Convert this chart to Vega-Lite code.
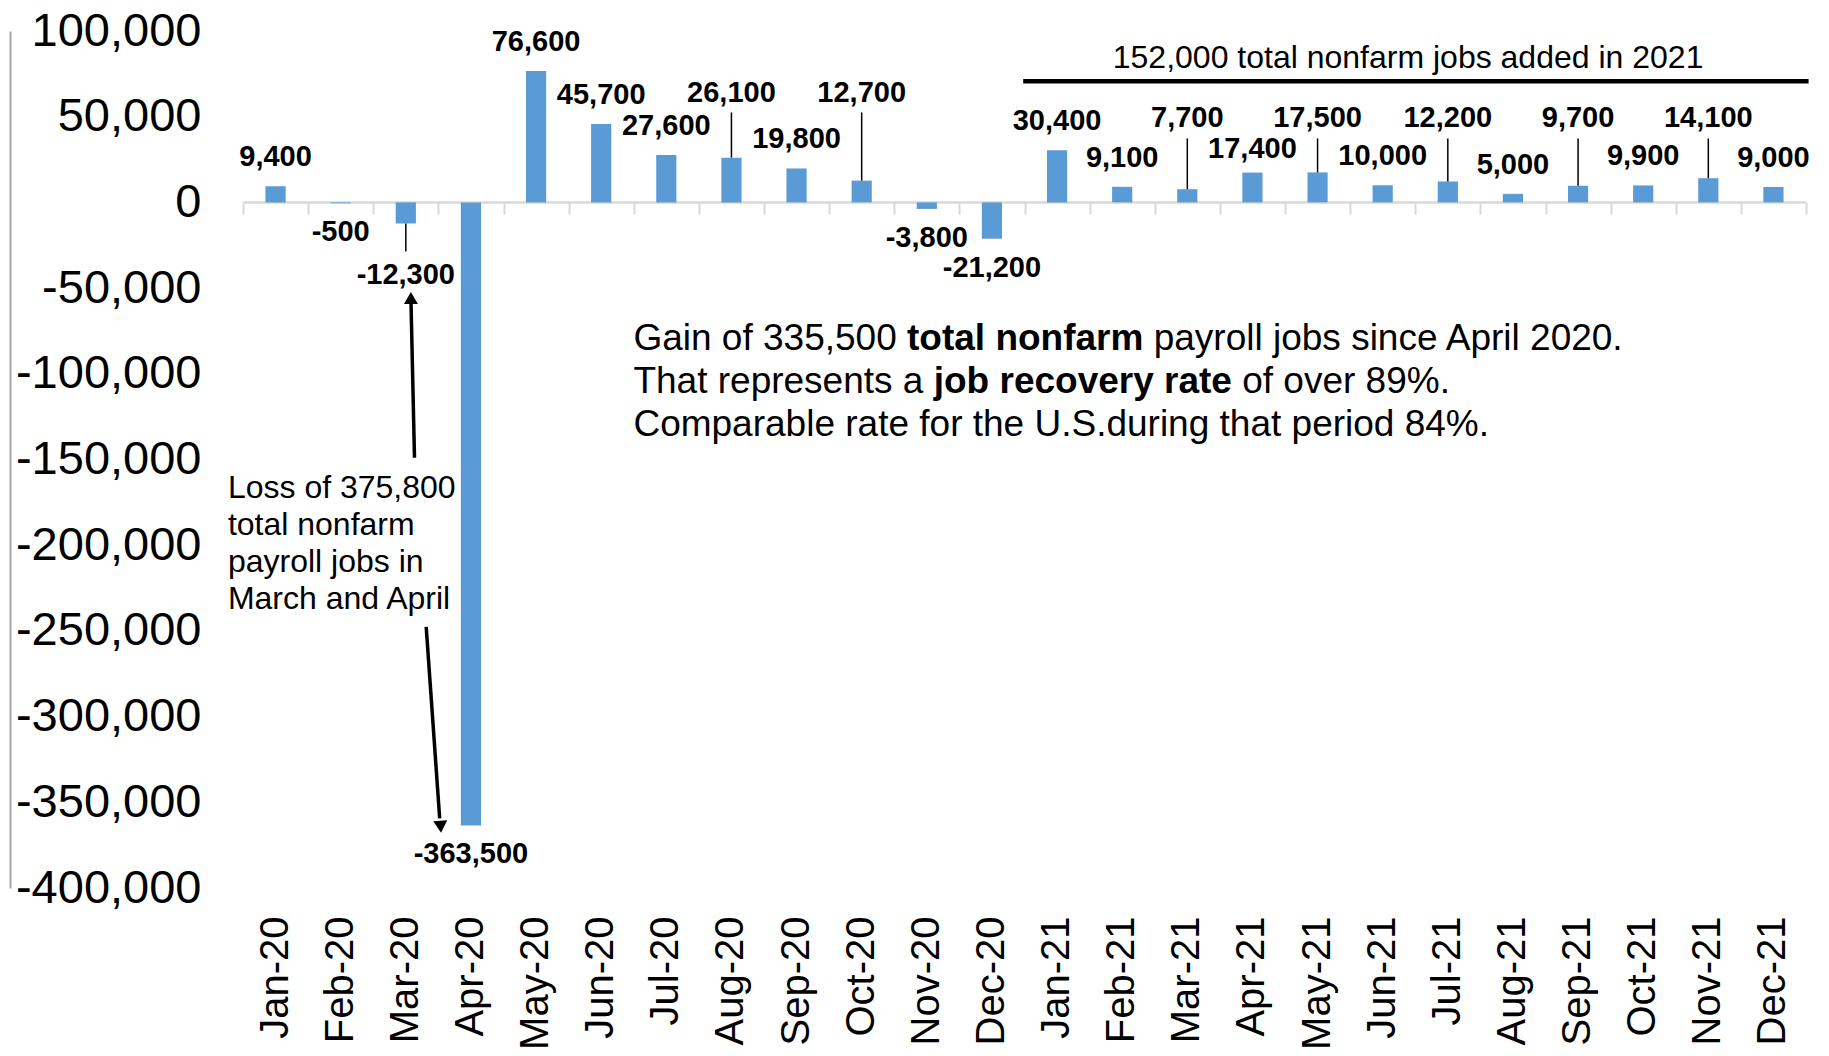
{
  "$schema": "https://vega.github.io/schema/vega-lite/v6.json",
  "width": 1563,
  "height": 857,
  "autosize": {"type": "none"},
  "padding": {"left": 243, "top": 31, "right": 23, "bottom": 168},
  "background": "white",
  "config": {
    "font": "Liberation Sans",
    "view": {"stroke": null},
    "locale": {"number": {"decimal": ".", "thousands": ",", "grouping": [3], "currency": ["$", ""], "minus": "-"}}
  },
  "datasets": {
    "jobs": [
      {"month": "Jan-20", "value": 9400},
      {"month": "Feb-20", "value": -500},
      {"month": "Mar-20", "value": -12300},
      {"month": "Apr-20", "value": -363500},
      {"month": "May-20", "value": 76600},
      {"month": "Jun-20", "value": 45700},
      {"month": "Jul-20", "value": 27600},
      {"month": "Aug-20", "value": 26100},
      {"month": "Sep-20", "value": 19800},
      {"month": "Oct-20", "value": 12700},
      {"month": "Nov-20", "value": -3800},
      {"month": "Dec-20", "value": -21200},
      {"month": "Jan-21", "value": 30400},
      {"month": "Feb-21", "value": 9100},
      {"month": "Mar-21", "value": 7700},
      {"month": "Apr-21", "value": 17400},
      {"month": "May-21", "value": 17500},
      {"month": "Jun-21", "value": 10000},
      {"month": "Jul-21", "value": 12200},
      {"month": "Aug-21", "value": 5000},
      {"month": "Sep-21", "value": 9700},
      {"month": "Oct-21", "value": 9900},
      {"month": "Nov-21", "value": 14100},
      {"month": "Dec-21", "value": 9000}
    ],
    "note": [{"note": "annotation"}]
  },
  "data": {"name": "jobs"},
  "resolve": {"scale": {"x": "independent"}, "axis": {"y": "independent"}},
  "layer": [
    {
      "mark": {"type": "bar", "color": "#5b9bd5"},
      "encoding": {
        "x": {
          "field": "month", "type": "nominal", "sort": null,
          "scale": {"domain": ["Jan-20","Feb-20","Mar-20","Apr-20","May-20","Jun-20","Jul-20","Aug-20","Sep-20","Oct-20","Nov-20","Dec-20","Jan-21","Feb-21","Mar-21","Apr-21","May-21","Jun-21","Jul-21","Aug-21","Sep-21","Oct-21","Nov-21","Dec-21"], "paddingInner": 0.69, "paddingOuter": 0.345},
          "axis": {
            "orient": "bottom", "labelAngle": -90, "labelFontSize": 40, "labelColor": "black",
            "labelFont": "Liberation Sans", "domain": false, "ticks": false, "tickSize": 0,
            "labelPadding": 28, "title": null, "labelOverlap": false, "grid": false, "labelLimit": 0
          }
        },
        "y": {
          "field": "value", "type": "quantitative",
          "scale": {"domain": [-400000, 100000], "nice": false, "zero": false},
          "axis": {
            "orient": "left", "offset": 233,
            "values": [100000, 50000, 0, -50000, -100000, -150000, -200000, -250000, -300000, -350000, -400000],
            "labelExpr": "replace(format(datum.value, ','), '\u2212', '-')",
            "labelFontSize": 47, "labelColor": "black", "labelFont": "Liberation Sans", "labelLimit": 0,
            "labelPadding": -191, "ticks": false, "tickSize": 0,
            "domain": true, "domainColor": "#a6a6a6", "domainWidth": 2,
            "grid": false, "title": null, "labelOverlap": false
          }
        }
      }
    },
    {
      "data": {"name": "note"},
      "mark": {"type": "rule", "color": "black", "strokeWidth": 4.5},
      "encoding": {
        "x": {
          "datum": 11.98, "type": "quantitative",
          "scale": {"domain": [0, 24], "nice": false, "zero": false},
          "axis": {
            "orient": "bottom", "offset": -686,
            "values": [0, 1, 2, 3, 4, 5, 6, 7, 8, 9, 10, 11, 12, 13, 14, 15, 16, 17, 18, 19, 20, 21, 22, 23, 24],
            "labels": false, "domain": true, "domainColor": "#d9d9d9", "domainWidth": 2.5,
            "ticks": true, "tickColor": "#d9d9d9", "tickWidth": 2, "tickSize": 12, "grid": false, "title": null
          }
        },
        "x2": {"datum": 24.04},
        "y": {"datum": 70740, "type": "quantitative", "axis": null}
      }
    },
    {
      "transform": [{"filter": "datum.value > 0 && indexof(['Aug-20','Oct-20','Mar-21','May-21','Jul-21','Sep-21','Nov-21','Apr-21'], datum.month) < 0"}],
      "mark": {"type": "text", "fontSize": 29, "fontWeight": "bold", "baseline": "middle", "align": "center", "dy": -29, "color": "black"},
      "encoding": {
        "x": {"field": "month", "type": "nominal", "sort": null, "axis": null,
              "scale": {"domain": ["Jan-20","Feb-20","Mar-20","Apr-20","May-20","Jun-20","Jul-20","Aug-20","Sep-20","Oct-20","Nov-20","Dec-20","Jan-21","Feb-21","Mar-21","Apr-21","May-21","Jun-21","Jul-21","Aug-21","Sep-21","Oct-21","Nov-21","Dec-21"], "paddingInner": 0.69, "paddingOuter": 0.345}},
        "y": {"field": "value", "type": "quantitative", "axis": null},
        "text": {"field": "value", "type": "quantitative", "format": ","}
      }
    },
    {
      "transform": [{"filter": {"field": "month", "equal": "Apr-21"}}],
      "mark": {"type": "text", "fontSize": 29, "fontWeight": "bold", "baseline": "middle", "align": "center", "dy": -24, "color": "black"},
      "encoding": {
        "x": {"field": "month", "type": "nominal", "sort": null, "axis": null,
              "scale": {"domain": ["Jan-20","Feb-20","Mar-20","Apr-20","May-20","Jun-20","Jul-20","Aug-20","Sep-20","Oct-20","Nov-20","Dec-20","Jan-21","Feb-21","Mar-21","Apr-21","May-21","Jun-21","Jul-21","Aug-21","Sep-21","Oct-21","Nov-21","Dec-21"], "paddingInner": 0.69, "paddingOuter": 0.345}},
        "y": {"field": "value", "type": "quantitative", "axis": null},
        "text": {"field": "value", "type": "quantitative", "format": ","}
      }
    },
    {
      "transform": [{"filter": "datum.value < 0 && datum.month != 'Mar-20'"}],
      "mark": {"type": "text", "fontSize": 29, "fontWeight": "bold", "baseline": "middle", "align": "center", "dy": 29, "color": "black"},
      "encoding": {
        "x": {"field": "month", "type": "nominal", "sort": null, "axis": null,
              "scale": {"domain": ["Jan-20","Feb-20","Mar-20","Apr-20","May-20","Jun-20","Jul-20","Aug-20","Sep-20","Oct-20","Nov-20","Dec-20","Jan-21","Feb-21","Mar-21","Apr-21","May-21","Jun-21","Jul-21","Aug-21","Sep-21","Oct-21","Nov-21","Dec-21"], "paddingInner": 0.69, "paddingOuter": 0.345}},
        "y": {"field": "value", "type": "quantitative", "axis": null},
        "text": {"field": "value", "type": "quantitative", "format": ","}
      }
    },
    {
      "transform": [{"filter": {"field": "month", "oneOf": ["Aug-20", "Oct-20"]}}],
      "mark": {"type": "text", "fontSize": 29, "fontWeight": "bold", "baseline": "middle", "align": "center", "color": "black"},
      "encoding": {
        "x": {"field": "month", "type": "nominal", "sort": null, "axis": null,
              "scale": {"domain": ["Jan-20","Feb-20","Mar-20","Apr-20","May-20","Jun-20","Jul-20","Aug-20","Sep-20","Oct-20","Nov-20","Dec-20","Jan-21","Feb-21","Mar-21","Apr-21","May-21","Jun-21","Jul-21","Aug-21","Sep-21","Oct-21","Nov-21","Dec-21"], "paddingInner": 0.69, "paddingOuter": 0.345}},
        "y": {"datum": 64000, "type": "quantitative", "axis": null},
        "text": {"field": "value", "type": "quantitative", "format": ","}
      }
    },
    {
      "transform": [{"filter": {"field": "month", "oneOf": ["Aug-20", "Oct-20"]}}],
      "mark": {"type": "rule", "color": "black", "strokeWidth": 1.5},
      "encoding": {
        "x": {"field": "month", "type": "nominal", "sort": null, "axis": null,
              "scale": {"domain": ["Jan-20","Feb-20","Mar-20","Apr-20","May-20","Jun-20","Jul-20","Aug-20","Sep-20","Oct-20","Nov-20","Dec-20","Jan-21","Feb-21","Mar-21","Apr-21","May-21","Jun-21","Jul-21","Aug-21","Sep-21","Oct-21","Nov-21","Dec-21"], "paddingInner": 0.69, "paddingOuter": 0.345}},
        "y": {"field": "value", "type": "quantitative", "axis": null},
        "y2": {"datum": 52500}
      }
    },
    {
      "transform": [{"filter": {"field": "month", "oneOf": ["Mar-21", "May-21", "Jul-21", "Sep-21", "Nov-21"]}}],
      "mark": {"type": "text", "fontSize": 29, "fontWeight": "bold", "baseline": "middle", "align": "center", "color": "black"},
      "encoding": {
        "x": {"field": "month", "type": "nominal", "sort": null, "axis": null,
              "scale": {"domain": ["Jan-20","Feb-20","Mar-20","Apr-20","May-20","Jun-20","Jul-20","Aug-20","Sep-20","Oct-20","Nov-20","Dec-20","Jan-21","Feb-21","Mar-21","Apr-21","May-21","Jun-21","Jul-21","Aug-21","Sep-21","Oct-21","Nov-21","Dec-21"], "paddingInner": 0.69, "paddingOuter": 0.345}},
        "y": {"datum": 49300, "type": "quantitative", "axis": null},
        "text": {"field": "value", "type": "quantitative", "format": ","}
      }
    },
    {
      "transform": [{"filter": {"field": "month", "oneOf": ["Mar-21", "May-21", "Jul-21", "Sep-21", "Nov-21"]}}],
      "mark": {"type": "rule", "color": "black", "strokeWidth": 1.5},
      "encoding": {
        "x": {"field": "month", "type": "nominal", "sort": null, "axis": null,
              "scale": {"domain": ["Jan-20","Feb-20","Mar-20","Apr-20","May-20","Jun-20","Jul-20","Aug-20","Sep-20","Oct-20","Nov-20","Dec-20","Jan-21","Feb-21","Mar-21","Apr-21","May-21","Jun-21","Jul-21","Aug-21","Sep-21","Oct-21","Nov-21","Dec-21"], "paddingInner": 0.69, "paddingOuter": 0.345}},
        "y": {"field": "value", "type": "quantitative", "axis": null},
        "y2": {"datum": 37300}
      }
    },
    {
      "transform": [{"filter": {"field": "month", "equal": "Mar-20"}}],
      "mark": {"type": "text", "fontSize": 29, "fontWeight": "bold", "baseline": "middle", "align": "center", "color": "black"},
      "encoding": {
        "x": {"field": "month", "type": "nominal", "sort": null, "axis": null,
              "scale": {"domain": ["Jan-20","Feb-20","Mar-20","Apr-20","May-20","Jun-20","Jul-20","Aug-20","Sep-20","Oct-20","Nov-20","Dec-20","Jan-21","Feb-21","Mar-21","Apr-21","May-21","Jun-21","Jul-21","Aug-21","Sep-21","Oct-21","Nov-21","Dec-21"], "paddingInner": 0.69, "paddingOuter": 0.345}},
        "y": {"datum": -42300, "type": "quantitative", "axis": null},
        "text": {"field": "value", "type": "quantitative", "format": ","}
      }
    },
    {
      "transform": [{"filter": {"field": "month", "equal": "Mar-20"}}],
      "mark": {"type": "rule", "color": "black", "strokeWidth": 1.5},
      "encoding": {
        "x": {"field": "month", "type": "nominal", "sort": null, "axis": null,
              "scale": {"domain": ["Jan-20","Feb-20","Mar-20","Apr-20","May-20","Jun-20","Jul-20","Aug-20","Sep-20","Oct-20","Nov-20","Dec-20","Jan-21","Feb-21","Mar-21","Apr-21","May-21","Jun-21","Jul-21","Aug-21","Sep-21","Oct-21","Nov-21","Dec-21"], "paddingInner": 0.69, "paddingOuter": 0.345}},
        "y": {"field": "value", "type": "quantitative", "axis": null},
        "y2": {"datum": -28600}
      }
    },
    {
      "data": {"name": "note"},
      "mark": {"type": "text", "fontSize": 32, "align": "center", "baseline": "middle", "color": "black"},
      "encoding": {
        "x": {"datum": 17.89, "type": "quantitative", "axis": null, "scale": {"domain": [0, 24], "nice": false, "zero": false}},
        "y": {"datum": 84390, "type": "quantitative", "axis": null},
        "text": {"value": "152,000 total nonfarm jobs added in 2021"}
      }
    },
    {
      "data": {"name": "note"},
      "mark": {"type": "text", "fontSize": 37, "align": "left", "baseline": "middle", "color": "black"},
      "encoding": {
        "x": {"datum": 5.995, "type": "quantitative", "axis": null, "scale": {"domain": [0, 24], "nice": false, "zero": false}},
        "y": {"datum": -79550, "type": "quantitative", "axis": null},
        "text": {"value": "Gain of 335,500"}
      }
    },
    {
      "data": {"name": "note"},
      "mark": {"type": "text", "fontSize": 37, "fontWeight": "bold", "align": "left", "baseline": "middle", "color": "black"},
      "encoding": {
        "x": {"datum": 10.196, "type": "quantitative", "axis": null, "scale": {"domain": [0, 24], "nice": false, "zero": false}},
        "y": {"datum": -79550, "type": "quantitative", "axis": null},
        "text": {"value": "total nonfarm"}
      }
    },
    {
      "data": {"name": "note"},
      "mark": {"type": "text", "fontSize": 37, "align": "left", "baseline": "middle", "color": "black"},
      "encoding": {
        "x": {"datum": 13.984, "type": "quantitative", "axis": null, "scale": {"domain": [0, 24], "nice": false, "zero": false}},
        "y": {"datum": -79550, "type": "quantitative", "axis": null},
        "text": {"value": "payroll jobs since April 2020."}
      }
    },
    {
      "data": {"name": "note"},
      "mark": {"type": "text", "fontSize": 37, "align": "left", "baseline": "middle", "color": "black"},
      "encoding": {
        "x": {"datum": 5.995, "type": "quantitative", "axis": null, "scale": {"domain": [0, 24], "nice": false, "zero": false}},
        "y": {"datum": -104745, "type": "quantitative", "axis": null},
        "text": {"value": "That represents a"}
      }
    },
    {
      "data": {"name": "note"},
      "mark": {"type": "text", "fontSize": 37, "fontWeight": "bold", "align": "left", "baseline": "middle", "color": "black"},
      "encoding": {
        "x": {"datum": 10.606, "type": "quantitative", "axis": null, "scale": {"domain": [0, 24], "nice": false, "zero": false}},
        "y": {"datum": -104745, "type": "quantitative", "axis": null},
        "text": {"value": "job recovery rate"}
      }
    },
    {
      "data": {"name": "note"},
      "mark": {"type": "text", "fontSize": 37, "align": "left", "baseline": "middle", "color": "black"},
      "encoding": {
        "x": {"datum": 15.343, "type": "quantitative", "axis": null, "scale": {"domain": [0, 24], "nice": false, "zero": false}},
        "y": {"datum": -104745, "type": "quantitative", "axis": null},
        "text": {"value": "of over 89%."}
      }
    },
    {
      "data": {"name": "note"},
      "mark": {"type": "text", "fontSize": 37, "align": "left", "baseline": "middle", "color": "black"},
      "encoding": {
        "x": {"datum": 5.995, "type": "quantitative", "axis": null, "scale": {"domain": [0, 24], "nice": false, "zero": false}},
        "y": {"datum": -129940, "type": "quantitative", "axis": null},
        "text": {"value": "Comparable rate for the U.S.during that period 84%."}
      }
    },
    {
      "data": {"name": "note"},
      "mark": {"type": "text", "fontSize": 32, "align": "left", "baseline": "middle", "color": "black", "lineHeight": 37, "lineBreak": "\n"},
      "encoding": {
        "x": {"datum": -0.232, "type": "quantitative", "axis": null, "scale": {"domain": [0, 24], "nice": false, "zero": false}},
        "y": {"datum": -166700, "type": "quantitative", "axis": null},
        "text": {"value": "Loss of 375,800\ntotal  nonfarm\npayroll jobs in\nMarch and April"}
      }
    },
    {
      "data": {"name": "note"},
      "mark": {"type": "rule", "color": "black", "strokeWidth": 3.5},
      "encoding": {
        "x": {"datum": 2.633, "type": "quantitative", "axis": null, "scale": {"domain": [0, 24], "nice": false, "zero": false}},
        "y": {"datum": -148950, "type": "quantitative", "axis": null},
        "x2": {"datum": 2.58},
        "y2": {"datum": -58500}
      }
    },
    {
      "data": {"name": "note"},
      "mark": {"type": "point", "shape": "triangle-up", "filled": true, "color": "black", "opacity": 1, "size": 196, "strokeWidth": 0},
      "encoding": {
        "x": {"datum": 2.578, "type": "quantitative", "axis": null, "scale": {"domain": [0, 24], "nice": false, "zero": false}},
        "y": {"datum": -55750, "type": "quantitative", "axis": null}
      }
    },
    {
      "data": {"name": "note"},
      "mark": {"type": "rule", "color": "black", "strokeWidth": 3.5},
      "encoding": {
        "x": {"datum": 2.813, "type": "quantitative", "axis": null, "scale": {"domain": [0, 24], "nice": false, "zero": false}},
        "y": {"datum": -247630, "type": "quantitative", "axis": null},
        "x2": {"datum": 3.02},
        "y2": {"datum": -359400}
      }
    },
    {
      "data": {"name": "note"},
      "mark": {"type": "point", "shape": "triangle-down", "filled": true, "color": "black", "opacity": 1, "size": 196, "strokeWidth": 0, "angle": -4},
      "encoding": {
        "x": {"datum": 3.035, "type": "quantitative", "axis": null, "scale": {"domain": [0, 24], "nice": false, "zero": false}},
        "y": {"datum": -364300, "type": "quantitative", "axis": null}
      }
    }
  ]
}
